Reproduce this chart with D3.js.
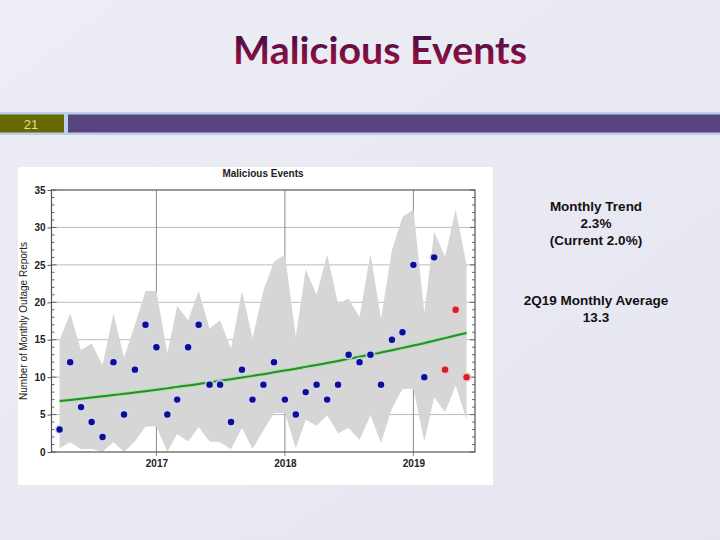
<!DOCTYPE html>
<html>
<head>
<meta charset="utf-8">
<script src="https://cdn.jsdelivr.net/npm/d3@7"></script>
<style>
  html, body { margin: 0; padding: 0; background: #ebebf4; }
  svg { display: block; }
</style>
</head>
<body>
<script>
// ---------- DATA ----------
const startYear = 2016, startMonth = 3; // April 2016 (0-based month)
const reports = [3,12,6,4,2,12,5,11,17,14,5,7,14,17,9,9,4,11,7,9,12,7,5,8,9,7,9,13,12,13,9,15,16,25,10,26,11,19,10];
const upperBand = [15,18.5,13.6,14.5,11.6,18.5,12.6,17.0,21.5,21.5,13.2,19.5,17.6,21.5,16.5,17.6,13.8,21.5,15.2,21.6,25.4,26.4,15.4,24.4,21.0,26.4,19.8,20.5,18.0,26.5,17.8,27.0,31.4,32.4,18.6,29.4,26.1,32.4,25.0];
const lowerBand = [0.5,1.3,0.4,0.4,0.05,1.3,0.05,1.4,3.4,3.4,0.05,2.4,1.4,3.3,1.4,1.3,0.4,3.2,0.4,2.9,5.2,5.2,0.5,4.3,3.5,4.9,2.5,3.2,1.6,4.9,1.2,5.8,8.4,8.4,1.4,7.3,5.3,8.9,4.3];
const trend = [6.80,6.95,7.11,7.27,7.44,7.60,7.78,7.95,8.13,8.32,8.50,8.70,8.89,9.09,9.30,9.51,9.73,9.95,10.17,10.40,10.64,10.88,11.12,11.37,11.63,11.89,12.16,12.44,12.72,13.00,13.30,13.60,13.91,14.22,14.54,14.87,15.21,15.55,15.90];
const highlighted = [false,false,false,false,false,false,false,false,false,false,false,false,false,false,false,false,false,false,false,false,false,false,false,false,false,false,false,false,false,false,false,false,false,false,false,false,true,true,true];
const yTicks = [0,5,10,15,20,25,30,35];
const yearTicks = [2017, 2018, 2019];
const slideTitle = "Malicious Events";
const chartTitle = "Malicious Events";
const yAxisTitle = "Number of Monthly Outage Reports";
const slideNumber = "21";
const notes1 = ["Monthly Trend", "2.3%", "(Current 2.0%)"];
const notes2 = ["2Q19 Monthly Average", "13.3"];

const months = reports.map((_, i) => new Date(startYear, startMonth + i, 1));
const rows = reports.map((v, i) => ({ date: months[i], value: v, hi: upperBand[i], lo: lowerBand[i], trend: trend[i], red: highlighted[i] }));

// ---------- SVG ----------
const W = 720, H = 540;
const svg = d3.select("body").append("svg").attr("width", W).attr("height", H);
const defs = svg.append("defs");

const bg = defs.append("linearGradient").attr("id", "bg").attr("x1", 0).attr("y1", 0).attr("x2", 1).attr("y2", 1);
bg.append("stop").attr("offset", "0%").attr("stop-color", "#ededf6");
bg.append("stop").attr("offset", "100%").attr("stop-color", "#e6e6f0");
svg.append("rect").attr("width", W).attr("height", H).attr("fill", "url(#bg)");

// Title
const tg = defs.append("linearGradient").attr("id", "tg").attr("x1", 0).attr("y1", 0).attr("x2", 0).attr("y2", 1);
tg.append("stop").attr("offset", "0%").attr("stop-color", "#2a0d4e");
tg.append("stop").attr("offset", "100%").attr("stop-color", "#b0103c");
svg.append("text").attr("x", 380).attr("y", 64)
  .attr("text-anchor", "middle")
  .attr("font-family", "Lato, 'Open Sans', sans-serif").attr("font-weight", "bold")
  .attr("font-size", 38).attr("fill", "url(#tg)")
  .attr("textLength", 294).attr("lengthAdjust", "spacingAndGlyphs")
  .text(slideTitle);

// Header bar
svg.append("rect").attr("x", 0).attr("y", 112).attr("width", W).attr("height", 23).attr("fill", "#b9d0ec");
svg.append("rect").attr("x", 0).attr("y", 114.5).attr("width", 64).attr("height", 18).attr("fill", "#686800");
svg.append("rect").attr("x", 68).attr("y", 114.5).attr("width", W - 68).attr("height", 18).attr("fill", "#5a4480");
svg.append("text").attr("x", 31).attr("y", 128.5).attr("text-anchor", "middle")
  .attr("font-family", "'Liberation Sans', Arial, sans-serif").attr("font-size", 13)
  .attr("fill", "#dcdca8").text(slideNumber);

// Chart panel
svg.append("rect").attr("x", 18).attr("y", 167).attr("width", 475).attr("height", 318).attr("fill", "#ffffff");

const pL = 51.5, pR = 475, pT = 190, pB = 452;
const x = d3.scaleTime().domain([new Date(2016, 2, 9), new Date(2019, 5, 25)]).range([pL, pR]);
const y = d3.scaleLinear().domain([0, 35]).range([pB, pT]);

const g = svg.append("g");

// horizontal grid
g.selectAll("line.hg").data(yTicks.filter(t => t > 0 && t < 35)).join("line")
  .attr("x1", pL).attr("x2", pR).attr("y1", d => y(d)).attr("y2", d => y(d))
  .attr("stroke", "#bdbdbd").attr("stroke-width", 1);

// vertical grid at years
g.selectAll("line.vg").data(yearTicks).join("line")
  .attr("x1", d => x(new Date(d, 0, 1))).attr("x2", d => x(new Date(d, 0, 1)))
  .attr("y1", pT).attr("y2", pB + 4)
  .attr("stroke", "#8a8a8a").attr("stroke-width", 1);

// band
g.append("path").datum(rows)
  .attr("fill", "#d6d6d6")
  .attr("d", d3.area().x(d => x(d.date)).y0(d => y(d.lo)).y1(d => y(d.hi)));

// minor ticks left/right
const minor = d3.range(0, 36);
g.selectAll("line.ml").data(minor).join("line")
  .attr("x1", pL).attr("x2", d => pL + (d % 5 === 0 ? 5 : 3))
  .attr("y1", d => y(d)).attr("y2", d => y(d))
  .attr("stroke", "#666").attr("stroke-width", 1);
g.selectAll("line.mr").data(minor).join("line")
  .attr("x1", pR).attr("x2", d => pR - (d % 5 === 0 ? 5 : 3))
  .attr("y1", d => y(d)).attr("y2", d => y(d))
  .attr("stroke", "#666").attr("stroke-width", 1);

// frame
g.append("rect").attr("x", pL).attr("y", pT).attr("width", pR - pL).attr("height", pB - pT)
  .attr("fill", "none").attr("stroke", "#555").attr("stroke-width", 1.2);

// y labels
const yAxis = d3.axisLeft(y).tickValues(yTicks).tickSize(4).tickPadding(2);
const ya = svg.append("g").attr("transform", `translate(${pL},0)`).call(yAxis);
ya.select(".domain").remove();
ya.selectAll("line").attr("stroke", "#555");
ya.selectAll("text").attr("font-family", "'Liberation Sans', Arial, sans-serif")
  .attr("font-size", 10).attr("font-weight", "bold").attr("fill", "#222");

// x labels
const xAxis = d3.axisBottom(x).tickValues(yearTicks.map(yr => new Date(yr, 0, 1))).tickFormat(d3.timeFormat("%Y")).tickSize(0).tickPadding(8);
const xa = svg.append("g").attr("transform", `translate(0,${pB})`).call(xAxis);
xa.select(".domain").remove();
xa.selectAll("text").attr("font-family", "'Liberation Sans', Arial, sans-serif")
  .attr("font-size", 10).attr("font-weight", "bold").attr("fill", "#222");

// trend line
const line = d3.line().x(d => x(d.date)).y(d => y(d.trend)).curve(d3.curveMonotoneX);
g.append("path").datum(rows).attr("fill", "none").attr("stroke", "#a6e3a6").attr("stroke-width", 4).attr("d", line);
g.append("path").datum(rows).attr("fill", "none").attr("stroke", "#2c8a2c").attr("stroke-width", 2).attr("d", line);

// points
g.selectAll("circle.halo").data(rows).join("circle")
  .attr("cx", d => x(d.date)).attr("cy", d => y(d.value)).attr("r", 5)
  .attr("fill", d => d.red ? "#f6c0c0" : "#d4d4f2").attr("opacity", 0.8);
g.selectAll("circle.pt").data(rows).join("circle")
  .attr("cx", d => x(d.date)).attr("cy", d => y(d.value)).attr("r", 3.2)
  .attr("fill", d => d.red ? "#cc2229" : "#0d0d96");

// chart title
svg.append("text").attr("x", 263).attr("y", 177).attr("text-anchor", "middle")
  .attr("font-family", "'Liberation Sans', Arial, sans-serif").attr("font-size", 10).attr("font-weight", "bold")
  .attr("fill", "#222").text(chartTitle);

// y axis title
svg.append("text").attr("transform", `translate(27,${(pT + pB) / 2}) rotate(-90)`)
  .attr("text-anchor", "middle")
  .attr("font-family", "'Liberation Sans', Arial, sans-serif").attr("font-size", 10)
  .attr("fill", "#222").text(yAxisTitle);

// notes
const noteFont = "'Liberation Sans', Arial, sans-serif";
svg.selectAll("text.n1").data(notes1).join("text")
  .attr("x", 596).attr("y", (d, i) => 211 + i * 16.8).attr("text-anchor", "middle")
  .attr("font-family", noteFont).attr("font-size", 13.5).attr("font-weight", "bold").attr("fill", "#111").text(d => d);
svg.selectAll("text.n2").data(notes2).join("text")
  .attr("x", 596).attr("y", (d, i) => 304.5 + i * 17.2).attr("text-anchor", "middle")
  .attr("font-family", noteFont).attr("font-size", 13.5).attr("font-weight", "bold").attr("fill", "#111").text(d => d);
</script>
</body>
</html>
